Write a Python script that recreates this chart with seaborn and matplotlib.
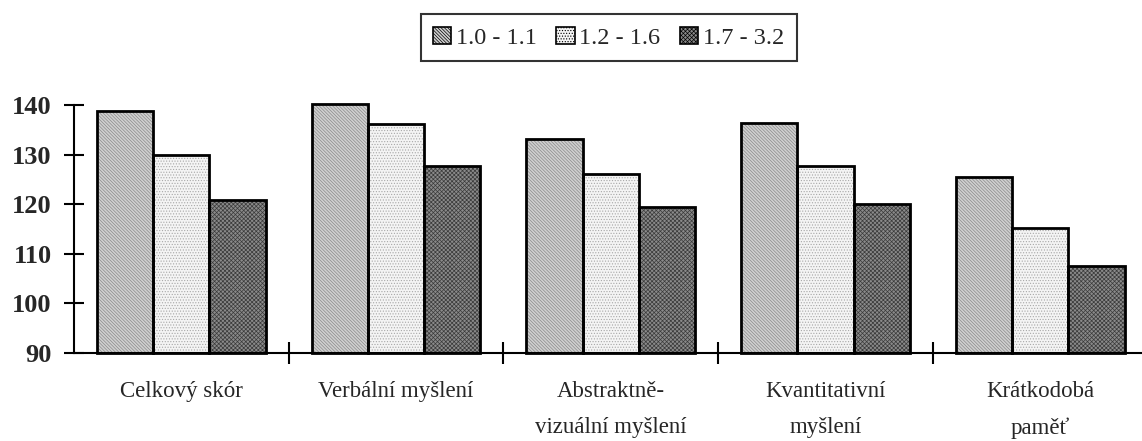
import matplotlib
matplotlib.use("Agg")
import matplotlib.pyplot as plt
import matplotlib.patches as mpatches
import seaborn as sns
import pandas as pd
import numpy as np

categories = ["Celkový skór", "Verbální myšlení", "Abstraktně-\nvizuální myšlení",
              "Kvantitativní\nmyšlení", "Krátkodobá\npaměť"]
series_names = ["1.0 - 1.1", "1.2 - 1.6", "1.7 - 3.2"]
vals_a = [138.8, 140.2, 133.1, 136.3, 125.4]
vals_b = [129.9, 136.2, 126.1, 127.8, 115.3]
vals_c = [120.8, 127.7, 119.4, 120.1, 107.6]
yticks = [90, 100, 110, 120, 130, 140]

sns.set_theme(style="white")
plt.rcParams['font.family'] = ['Liberation Serif', 'DejaVu Serif']
plt.rcParams['hatch.linewidth'] = 0.5

df = pd.DataFrame({
    "cat": categories * 3,
    "grp": [series_names[0]] * 5 + [series_names[1]] * 5 + [series_names[2]] * 5,
    "val": vals_a + vals_b + vals_c,
})

face = ["#d0d0d0", "#f4f4f4", "#8a8a8a"]
hatch_col = ["#8a8a8a", "#a8a8a8", "#3a3a3a"]
hatches = ["\\\\\\\\\\\\\\\\\\\\", "......", "xxxxxxxx"]

fig = plt.figure(figsize=(11.42, 4.41), dpi=100)
ax = fig.add_axes([0.0648, 0.1995, 0.94, 0.5735])

sns.barplot(data=df, x="cat", y="val", hue="grp", hue_order=series_names,
            order=categories, ax=ax, width=0.786, gap=0, legend=False,
            palette=face, saturation=1)

for i, cont in enumerate(ax.containers):
    for p in cont:
        p.set_facecolor(face[i])
        p.set_hatch(hatches[i])
        p.set_edgecolor(hatch_col[i])
        p.set_linewidth(0)
        bottom = 90
        top = p.get_y() + p.get_height()
        p.set_y(bottom)
        p.set_height(top - bottom)
        p.set_clip_on(False)
        ax.add_patch(mpatches.Rectangle((p.get_x(), bottom), p.get_width(), top - bottom,
                                        fill=False, edgecolor="black", linewidth=2,
                                        clip_on=False, zorder=3))

ax.set_ylim(90, 141)
ax.set_xlim(-0.5, len(categories) - 0.5)
ax.set_yticks(yticks)
ax.set_yticklabels([str(t) for t in yticks], fontsize=19, fontweight="bold")
ax.tick_params(axis="y", direction="inout", length=14, width=1.5, color="black", pad=9, left=True)
ax.set_xticks(range(len(categories)))
ax.set_xticklabels(categories, fontsize=16.5, linespacing=1.95)
ax.tick_params(axis="x", which="major", length=0, pad=20)
ax.set_xticks(np.arange(len(categories) - 1) + 0.5, minor=True)
ax.tick_params(axis="x", which="minor", direction="inout", length=16, width=1.5, color="black", bottom=True)
ax.set_xlabel("")
ax.set_ylabel("")
for s in ["top", "right"]:
    ax.spines[s].set_visible(False)
ax.spines["left"].set_bounds(90, 140)
ax.spines["left"].set_linewidth(1.5)
ax.spines["left"].set_color("black")
ax.spines["bottom"].set_linewidth(1.5)
ax.spines["bottom"].set_color("black")
ax.grid(False)

handles = [mpatches.Patch(facecolor=face[i], hatch=hatches[i], edgecolor="black", linewidth=1.2)
           for i in range(3)]
leg = fig.legend(handles, series_names, loc="upper center", bbox_to_anchor=(0.533, 0.995),
                 ncol=3, frameon=True, fancybox=False, fontsize=17.5, handlelength=0.75,
                 handleheight=0.75, handletextpad=0.2, columnspacing=0.8, borderpad=0.5,
                 edgecolor="black")
leg.get_frame().set_linewidth(1.5)

fig.savefig("out.png", dpi=100)
